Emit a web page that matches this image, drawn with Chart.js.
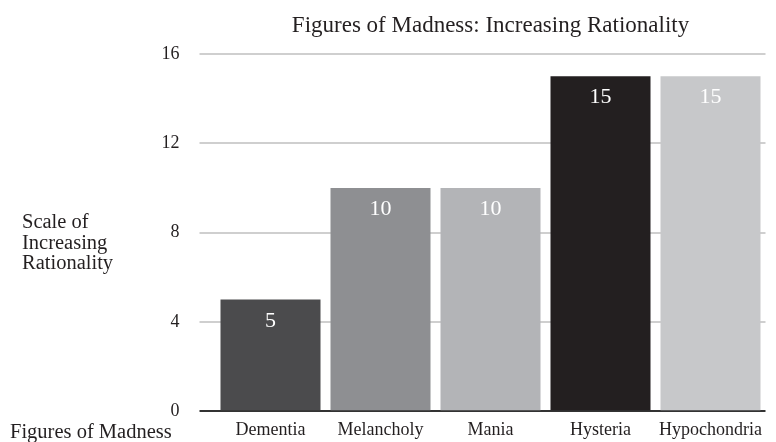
<!DOCTYPE html>
<html>
<head>
<meta charset="utf-8">
<script src="https://cdn.jsdelivr.net/npm/chart.js@4/dist/chart.umd.min.js"></script>
<style>
  html, body { margin: 0; padding: 0; background: #ffffff; }
  #wrap { width: 776px; height: 442px; position: relative; }
</style>
</head>
<body>
<div id="wrap"><canvas id="c" width="776" height="442"></canvas></div>
<script>
const chartTitle = 'Figures of Madness: Increasing Rationality';
const xAxisTitle = 'Figures of Madness';
const yAxisTitleLines = ['Scale of', 'Increasing', 'Rationality'];
const categories = ['Dementia', 'Melancholy', 'Mania', 'Hysteria', 'Hypochondria'];
const values = [5, 10, 10, 15, 15];
const barColors = ['#4b4b4d', '#8e8f92', '#b3b4b7', '#231f20', '#c7c8ca'];
const yMin = 0, yMax = 16, yStep = 4;

const FONT = '"Liberation Serif", "Times New Roman", Times, serif';
const TEXT = '#231f20';

const textPlugin = {
  id: 'textPlugin',
  afterDatasetsDraw(chart) {
    const ctx = chart.ctx;
    const area = chart.chartArea;
    ctx.save();
    // value labels inside bars
    const meta = chart.getDatasetMeta(0);
    ctx.fillStyle = '#ffffff';
    ctx.font = '22px ' + FONT;
    ctx.textAlign = 'center';
    ctx.textBaseline = 'alphabetic';
    meta.data.forEach((bar, i) => {
      ctx.fillText(String(values[i]), bar.x, bar.y + 27);
    });
    // chart title centred over plot area
    ctx.fillStyle = TEXT;
    ctx.font = '23px ' + FONT;
    ctx.textAlign = 'center';
    ctx.fillText(chartTitle, (area.left + area.right) / 2, 31.5);
    // y axis title (horizontal, multi-line)
    ctx.font = '20.5px ' + FONT;
    ctx.textAlign = 'left';
    yAxisTitleLines.forEach((line, i) => {
      ctx.fillText(line, 22, 228 + i * 20.7);
    });
    // x axis title
    ctx.fillText(xAxisTitle, 10, 438);
    ctx.restore();
  }
};

new Chart(document.getElementById('c'), {
  type: 'bar',
  data: {
    labels: categories,
    datasets: [{
      data: values,
      backgroundColor: barColors,
      borderWidth: 0,
      barPercentage: 1,
      categoryPercentage: 100 / 110
    }]
  },
  options: {
    responsive: false,
    animation: false,
    devicePixelRatio: 1,
    layout: { padding: { top: 54, right: 10.5, left: 0, bottom: 0 } },
    plugins: {
      legend: { display: false },
      title: { display: false },
      tooltip: { enabled: false }
    },
    scales: {
      x: {
        grid: { display: false, drawTicks: false, tickLength: 0 },
        border: { display: false },
        ticks: {
          color: TEXT,
          font: { family: FONT, size: 18 },
          padding: 8,
          maxRotation: 0,
          autoSkip: false
        },
        afterFit(scale) { scale.height = 28; }
      },
      y: {
        min: yMin,
        max: yMax,
        border: { display: false },
        grid: {
          color: (c) => (c.tick && c.tick.value === 0 ? '#333333' : '#cfcfcf'),
          lineWidth: 2,
          tickLength: 16,
          drawTicks: true
        },
        ticks: {
          stepSize: yStep,
          color: TEXT,
          font: { family: FONT, size: 18 },
          padding: 20
        },
        afterFit(scale) { scale.width = 215.5; }
      }
    }
  },
  plugins: [textPlugin]
});
</script>
</body>
</html>
